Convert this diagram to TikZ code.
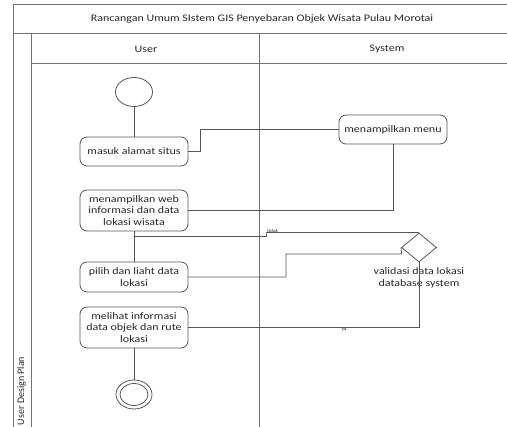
\documentclass[tikz,border=0pt]{standalone}
\usepackage{fontspec}
\setmainfont[FakeStretch=1.2]{Carlito}
\newfontfamily\plainfont{Carlito}
\usetikzlibrary{shapes.geometric}
\definecolor{lnc}{RGB}{85,85,85}
\definecolor{frc}{RGB}{115,115,115}
\definecolor{txc}{RGB}{40,40,40}
\tikzset{
  act/.style={draw=lnc, rounded corners=7pt, minimum width=108pt, align=center,
    font=\fontsize{10}{11.7}\selectfont, text=txc, inner sep=3pt, line width=0.8pt},
  conn/.style={draw=lnc, line width=0.8pt},
  frameline/.style={draw=frc, line width=0.9pt},
  lbl/.style={font=\fontsize{10}{11.7}\selectfont, text=txc, align=center},
  tinylbl/.style={font=\fontsize{4.5}{5}\selectfont, text=txc, inner sep=0.5pt},
  startnode/.style={draw=lnc, ellipse, line width=0.8pt, inner sep=0pt}
}
\begin{document}
\begin{tikzpicture}[x=1pt,y=-1pt]
\useasboundingbox (0,0) rectangle (507,427);
\clip (0,0) rectangle (507,427);
\fill[white] (0,0) rectangle (507,427);
% frame
\draw[frameline] (13,440) -- (13,4) -- (520,4);
\draw[frameline] (13,33) -- (520,33);
\draw[frameline] (31,33) -- (31,440);
\draw[frameline] (31,63) -- (520,63);
\draw[frameline] (259,33) -- (259,440);
% headings
\node[lbl] (title) at (262,18.5) {Rancangan Umum SIstem GIS Penyebaran Objek Wisata Pulau Morotai};
\node[lbl] (huser) at (146,49) {User};
\node[lbl] (hsys) at (387,49) {System};
\node[font=\plainfont\fontsize{10}{12}\selectfont, text=txc, rotate=90, inner sep=1pt] (plan) at (21.5,391) {User Design Plan};
% activities
\node[startnode, minimum width=37pt, minimum height=29pt] (start) at (134,92) {};
\node[act, minimum height=29pt] (masuk) at (134,151.5) {masuk alamat situs};
\node[act, minimum height=29pt] (menu) at (393,129.5) {menampilkan menu};
\node[act, minimum height=41pt] (web) at (134,210.5) {menampilkan web\\informasi dan data\\lokasi wisata};
\node[act, minimum height=30pt] (pilih) at (134,277) {pilih dan liaht data\\lokasi};
\node[act, minimum height=41pt] (melihat) at (134,327.5) {melihat informasi\\data objek dan rute\\lokasi};
\node[draw=lnc, diamond, aspect=1.2, minimum width=35pt, minimum height=29pt, inner sep=0pt, line width=0.8pt] (dia) at (419,247.5) {};
\node[lbl] (dialbl) at (419,277.5) {validasi data lokasi\\database system};
\node[startnode, minimum width=36pt, minimum height=29pt] (end) at (134,394.5) {};
\node[startnode, minimum width=28pt, minimum height=22pt] (endin) at (134,394.5) {};
% connectors
\coordinate (j1) at (134,236);
\coordinate (t1) at (266,236);
\coordinate (t2) at (266,233);
\coordinate (p1) at (286,277);
\coordinate (p2) at (286,254);
\coordinate (p3) at (401.5,254);
\draw[conn] (start) -- (masuk);
\draw[conn] (masuk.east) -- ++(12,0) |- (menu.west);
\draw[conn] (menu.south) |- (web.east);
\draw[conn] (web) -- (pilih);
\draw[conn] (dia.north) -- (dia.north -| t2) -- (t2) -- (t1) -- (j1);
\draw[conn] (pilih.east) -- (p1) -- (p2) -- (p3) -- (dia.west);
\draw[conn] (dia.south) |- (melihat.east);
\draw[conn] (melihat) -- (end);
\node[tinylbl, anchor=south west] (tidak) at (266.5,233.5) {tidak};
\node[tinylbl] (ya) at (344,329.5) {ya};
\end{tikzpicture}
\end{document}
